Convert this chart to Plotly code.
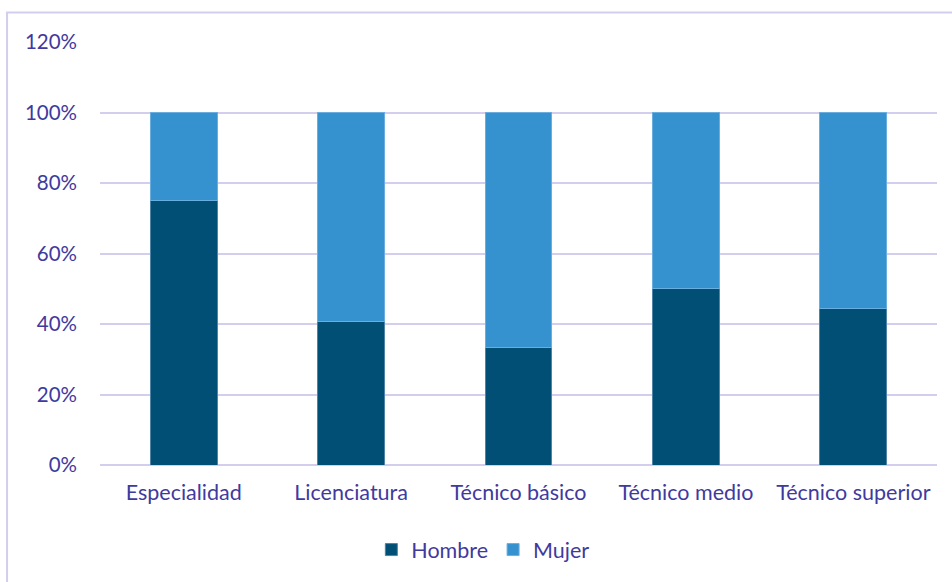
import plotly.graph_objects as go

# Data
categories = ["Especialidad", "Licenciatura", "Técnico básico", "Técnico medio", "Técnico superior"]
hombre = [0.75, 0.407, 0.333, 0.50, 0.444]
mujer = [1 - v for v in hombre]

W, H = 952, 582
ml, mr, mt, mb = 100, 14.5, 41.5, 116.5
pw, ph = W - ml - mr, H - mt - mb

text_color = "#3f3a9e"
grid_color = "#d3cdee"
font_name = "Lato, 'Open Sans', sans-serif"

fig = go.Figure()
fig.add_trace(go.Bar(x=categories, y=hombre, name="Hombre",
                     marker=dict(color="#024f75", line=dict(color="#4f84a6", width=1))))
fig.add_trace(go.Bar(x=categories, y=mujer, name="Mujer",
                     marker=dict(color="#3592cf", line=dict(color="#6aaee0", width=1))))


# convert pixel position to paper coords (for the outer frame)
def px_x(x):
    return (x - ml) / pw


def px_y(y):
    return (H - mb - y) / ph


# chart frame: only left and top edges fall inside the picture
fig.add_shape(type="rect", xref="paper", yref="paper",
              x0=px_x(7), x1=px_x(970), y0=px_y(600), y1=px_y(12),
              line=dict(color=grid_color, width=2), layer="below")

fig.update_layout(
    width=W, height=H,
    barmode="stack", bargap=0.6,
    margin=dict(l=ml, r=mr, t=mt, b=mb, autoexpand=False),
    paper_bgcolor="white", plot_bgcolor="white",
    font=dict(family=font_name, size=21, color=text_color),
    showlegend=True,
    legend=dict(orientation="h", x=0.458, xanchor="center", y=-0.2, yanchor="middle",
                font=dict(size=21.5, color=text_color), traceorder="normal",
                itemwidth=30, bgcolor="rgba(0,0,0,0)"),
    xaxis=dict(showgrid=False, showline=False, ticks="", tickfont=dict(size=21.5),
               ticklabelstandoff=12),
    yaxis=dict(range=[0, 1.2], dtick=0.2, tickformat=".0%", showgrid=True,
               gridcolor=grid_color, gridwidth=1.5, zeroline=True,
               zerolinecolor=grid_color, zerolinewidth=1.5, ticks="",
               ticklabelstandoff=22, tickfont=dict(size=20.5)),
)

fig.write_html("out.html", config={"displayModeBar": False},
               post_script="document.body.style.margin='0';")
